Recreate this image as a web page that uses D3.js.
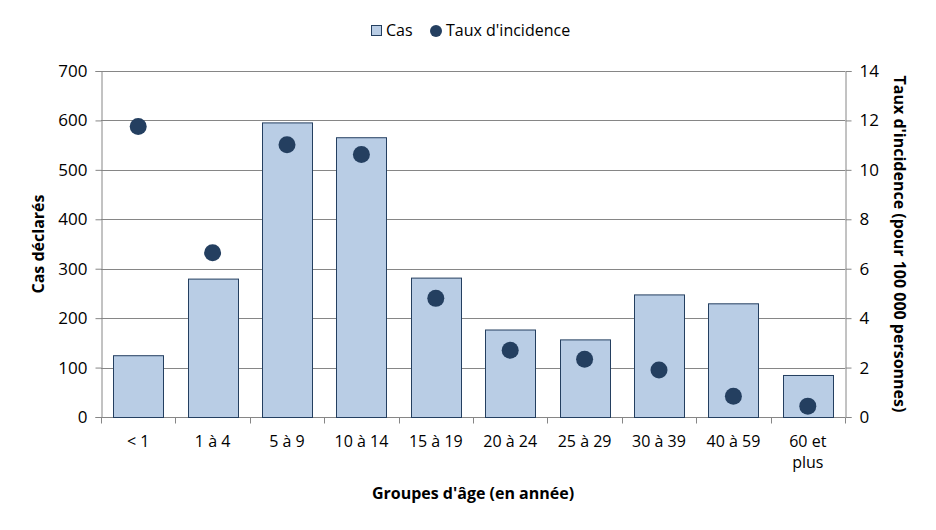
<!DOCTYPE html>
<html>
<head>
<meta charset="utf-8">
<script src="https://cdn.jsdelivr.net/npm/d3@7"></script>
<style>
body { margin: 0; background: #fff; }
text { font-family: "Open Sans", "Noto Sans", sans-serif; fill: #000; }
</style>
</head>
<body>
<div id="chart"></div>
<script>
//Chart data
var groupes = ["< 1", "1 à 4", "5 à 9", "10 à 14", "15 à 19", "20 à 24", "25 à 29", "30 à 39", "40 à 59", "60 et plus"];
var cas = [125, 280, 596, 566, 282, 177, 157, 248, 230, 85];
var taux = [11.75, 6.65, 11.02, 10.62, 4.8, 2.7, 2.34, 1.9, 0.84, 0.44];
var casTicks = [0, 100, 200, 300, 400, 500, 600, 700];
var tauxTicks = [0, 2, 4, 6, 8, 10, 12, 14];

var W = 936, H = 530;
//plot area edges (window.top is reserved so use other names)
var pLeft = 101, pRight = 845, pTop = 71, pBottom = 417;

var svg = d3.select("#chart").append("svg")
    .attr("width", W)
    .attr("height", H);

//scales
var xscale = d3.scaleBand()
    .domain(groupes)
    .range([pLeft, pRight])
    .paddingInner(0.33)
    .paddingOuter(0.165);

var xouter = d3.scaleBand()
    .domain(groupes)
    .range([pLeft, pRight]);

var yscale = d3.scaleLinear().domain([0, 700]).range([pBottom, pTop]);
var y2scale = d3.scaleLinear().domain([0, 14]).range([pBottom, pTop]);

//gridlines
svg.append("g")
    .selectAll("line")
    .data(casTicks.slice(1))
    .enter()
    .append("line")
    .attr("x1", pLeft)
    .attr("x2", pRight)
    .attr("y1", d => Math.round(yscale(d)) + 0.5)
    .attr("y2", d => Math.round(yscale(d)) + 0.5)
    .attr("stroke", "#868686")
    .attr("stroke-width", 1);

//left axis
var yaxis = d3.axisLeft(yscale).tickValues(casTicks).tickSize(6).tickPadding(8);
var gy = svg.append("g")
    .attr("transform", "translate(" + (pLeft + 0.5) + ",0)")
    .call(yaxis);

//right axis
var y2axis = d3.axisRight(y2scale).tickValues(tauxTicks).tickSize(6).tickPadding(8);
var gy2 = svg.append("g")
    .attr("transform", "translate(" + (pRight + 0.5) + ",0)")
    .call(y2axis);

//bottom axis - ticks go between categories
var gx = svg.append("g")
    .attr("transform", "translate(0," + (pBottom + 0.5) + ")");
gx.append("line")
    .attr("x1", pLeft).attr("x2", pRight)
    .attr("stroke", "#868686");
gx.selectAll(".sep")
    .data(groupes.concat(["end"]))
    .enter()
    .append("line")
    .attr("x1", (d, i) => Math.round(pLeft + i * xouter.bandwidth()) + 0.5)
    .attr("x2", (d, i) => Math.round(pLeft + i * xouter.bandwidth()) + 0.5)
    .attr("y1", 0)
    .attr("y2", 6)
    .attr("stroke", "#868686");

//category labels (wrap "60 et plus")
gx.selectAll(".lab")
    .data(groupes)
    .enter()
    .append("text")
    .attr("text-anchor", "middle")
    .attr("font-size", 16)
    .attr("y", 29)
    .each(function(d) {
        var cx = xouter(d) + xouter.bandwidth() / 2;
        var parts = d == "60 et plus" ? ["60 et", "plus"] : [d];
        var t = d3.select(this);
        parts.forEach(function(p, k) {
            t.append("tspan").attr("x", cx).attr("dy", k == 0 ? 0 : 21).text(p);
        });
    });

[gy, gy2].forEach(function(g) {
    g.select(".domain").attr("stroke", "#868686");
    g.selectAll(".tick line").attr("stroke", "#868686");
    g.selectAll(".tick text").attr("font-size", 17).attr("font-family", "Open Sans, sans-serif").attr("fill", "#000");
});

//bars
svg.selectAll("rect.bar")
    .data(groupes)
    .enter()
    .append("rect")
    .attr("class", "bar")
    .attr("x", d => Math.round(xscale(d)) + 0.5)
    .attr("y", (d, i) => yscale(cas[i]) + 0.5)
    .attr("width", Math.round(xscale.bandwidth()))
    .attr("height", (d, i) => pBottom - yscale(cas[i]))
    .attr("fill", "#b9cde5")
    .attr("stroke", "#243f60")
    .attr("stroke-width", 1);

//rate dots
svg.selectAll("circle.dot")
    .data(groupes)
    .enter()
    .append("circle")
    .attr("class", "dot")
    .attr("cx", d => xouter(d) + xouter.bandwidth() / 2)
    .attr("cy", (d, i) => y2scale(taux[i]))
    .attr("r", 8.5)
    .attr("fill", "#243f60");

//axis titles
svg.append("text")
    .attr("transform", "translate(44," + ((pTop + pBottom) / 2) + ") rotate(-90)")
    .attr("text-anchor", "middle")
    .attr("font-size", 16)
    .attr("font-weight", "bold")
    .text("Cas déclarés");

svg.append("text")
    .attr("transform", "translate(894," + ((pTop + pBottom) / 2) + ") rotate(90)")
    .attr("text-anchor", "middle")
    .attr("font-size", 16)
    .attr("font-weight", "bold")
    .text("Taux d'incidence (pour 100 000 personnes)");

svg.append("text")
    .attr("x", (pLeft + pRight) / 2)
    .attr("y", 499)
    .attr("text-anchor", "middle")
    .attr("font-size", 16)
    .attr("font-weight", "bold")
    .text("Groupes d'âge (en année)");

//legend
var leg = svg.append("g");
leg.append("rect")
    .attr("x", 371.5).attr("y", 25.5)
    .attr("width", 10).attr("height", 10)
    .attr("fill", "#b9cde5")
    .attr("stroke", "#243f60");
leg.append("text")
    .attr("x", 386).attr("y", 36)
    .attr("font-size", 16)
    .text("Cas");
leg.append("circle")
    .attr("cx", 436).attr("cy", 31)
    .attr("r", 6)
    .attr("fill", "#243f60");
leg.append("text")
    .attr("x", 446).attr("y", 36)
    .attr("font-size", 16)
    .text("Taux d'incidence");
</script>
</body>
</html>
